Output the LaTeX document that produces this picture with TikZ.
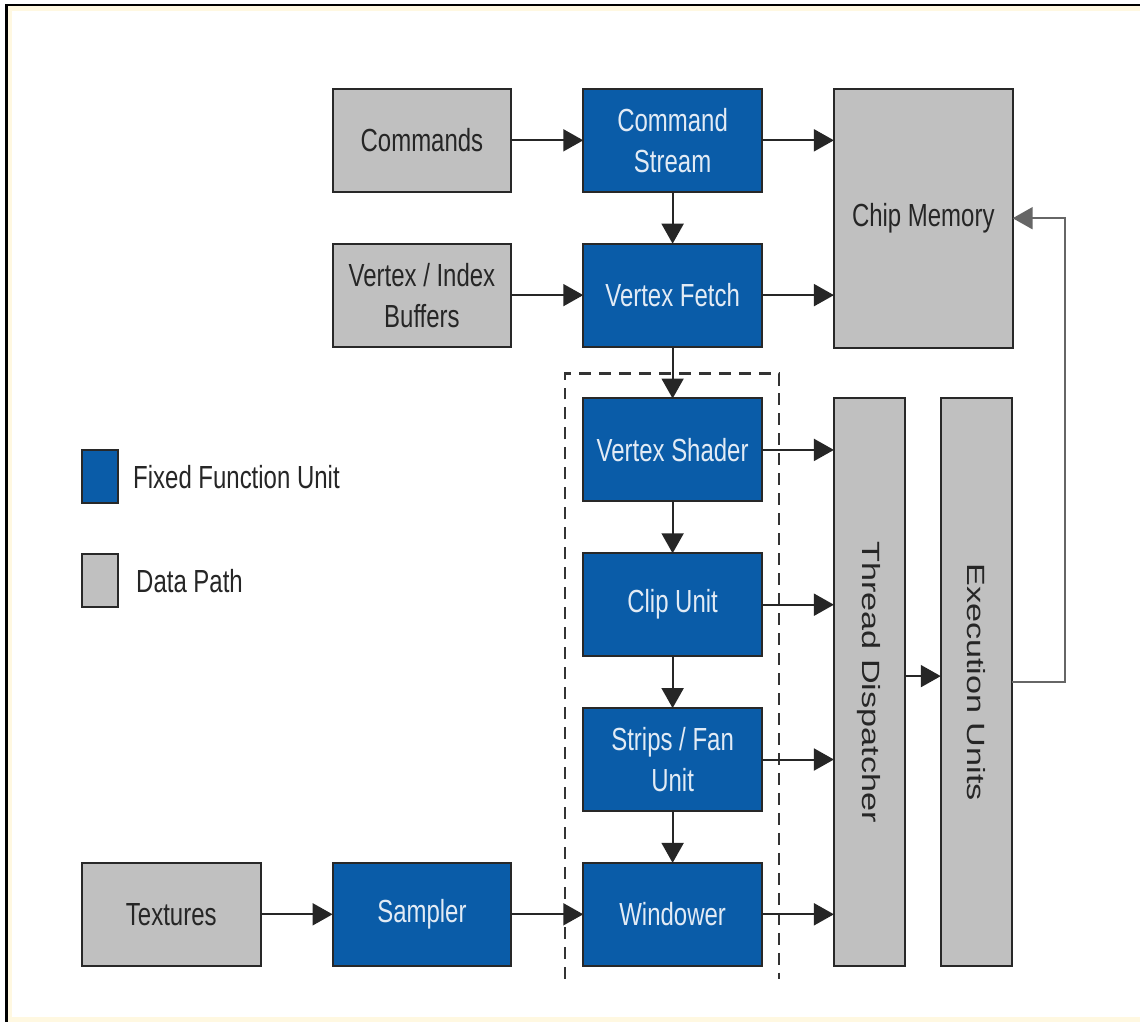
\documentclass[tikz,border=0pt]{standalone}
\usepackage{fontspec}
\setmainfont{Liberation Sans}[FakeStretch=0.75]
\newfontfamily\plainsans{Liberation Sans}
\usetikzlibrary{positioning,arrows.meta}
\definecolor{unitblue}{RGB}{10,92,168}
\definecolor{pathgray}{RGB}{192,192,192}
\definecolor{edgegray}{RGB}{40,40,40}
\definecolor{paper}{RGB}{255,248,225}
\newcommand{\sidewaystext}[1]{\rotatebox{-90}{\scalebox{1.07}[0.78]{\plainsans #1}}}

\begin{document}
\begin{tikzpicture}[x=0.5pt,y=-0.5pt]
        \tikzset{box/.style={draw=edgegray,line width=1pt,minimum width=89.5pt,minimum height=51.5pt,
                inner sep=0pt,outer sep=0pt,align=center,font=\fontsize{16}{20.5}\selectfont},
            fixed/.style={box,fill=unitblue,text=white!88!unitblue},
            datapath/.style={box,fill=pathgray,text=black!85},
            tallbox/.style={datapath,minimum width=35.5pt,minimum height=284pt},
            keybox/.style={box,minimum width=18pt,minimum height=26.5pt},
            keytext/.style={inner sep=0pt,text=black!85,font=\fontsize{16}{20.5}\selectfont},
            flow/.style={draw=black!85,line width=1pt,-{Triangle[length=10pt,width=11pt]}},
            node distance=26pt and 36pt}
        \fill[paper] (7,5) rectangle (1141,1023);
        \fill[white] (12,11) rectangle (1141,1018);
        \draw[line width=1.5pt] (7,1023) -- (7,5) -- (1141,5);
        \useasboundingbox (0,0) rectangle (1141,1023);

        \node[fixed] (cs) at (673.5,140.5) {Command\\Stream};
        \node[datapath,left=of cs] (cmd) {Commands};
        \node[fixed,below=of cs] (vf) {Vertex Fetch};
        \node[datapath,left=of vf] (vib) {Vertex / Index\\Buffers};
        \node[fixed,below=of vf] (vs) {Vertex Shader};
        \node[fixed,below=of vs] (clip) {Clip Unit};
        \node[fixed,below=of clip] (sf) {Strips / Fan\\Unit};
        \node[fixed,below=of sf] (win) {Windower};
        \node[fixed,left=of win] (smp) {Sampler};
        \node[datapath,left=of smp] (tex) {Textures};
        \node[datapath,minimum height=129.5pt,right=of cs.north east,anchor=north west] (cm) {Chip Memory};
        \node[tallbox,right=of vs.north east,anchor=north west] (td) {\sidewaystext{Thread Dispatcher}};
        \node[tallbox,right=18pt of td] (eu) {\sidewaystext{Execution Units}};

        \node[keybox,fill=unitblue] (keyfixed) at (100,477.5) {};
        \node[keytext,right=7.5pt of keyfixed] (keyfixedtext) {Fixed Function Unit};
        \node[keybox,fill=pathgray] (keypath) at (100,581.5) {};
        \node[keytext,right=9pt of keypath] (keypathtext) {Data Path};

        \draw[black!80,line width=1.2pt,dash pattern=on 6pt off 4pt] (566,980) -- (566,374) -- (780,374) -- (780,980);

        \draw[flow] (cmd) -- (cs);
        \draw[flow] (vib) -- (vf);
        \draw[flow] (cs) -- (cs -| cm.west);
        \draw[flow] (vf) -- (vf -| cm.west);
        \draw[flow] (cs) -- (vf);
        \draw[flow] (vf) -- (vs);
        \draw[flow] (vs) -- (clip);
        \draw[flow] (clip) -- (sf);
        \draw[flow] (sf) -- (win);
        \foreach \unit in {vs,clip,sf,win}
            \draw[flow] (\unit) -- (\unit -| td.west);
        \draw[flow] (tex) -- (smp);
        \draw[flow] (smp) -- (win);
        \draw[flow] ([yshift=3pt]td.east) -- ([yshift=3pt]eu.west);
        \draw[flow,draw=black!60] (eu.east) -- ++(53,0) |- (cm.east);
    \end{tikzpicture}
\end{document}
